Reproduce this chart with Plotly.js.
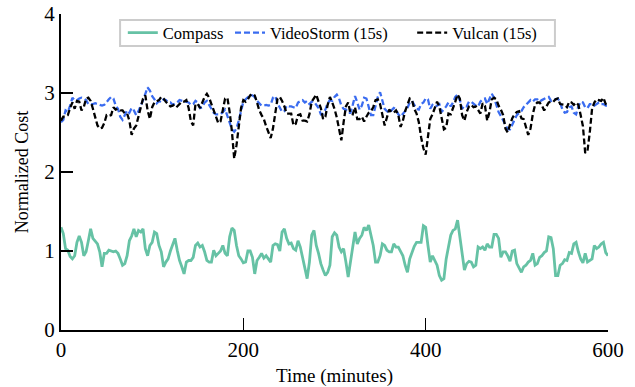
<!DOCTYPE html>
<html>
<head>
<meta charset="utf-8">
<script src="https://cdn.plot.ly/plotly-3.0.1.min.js"></script>
<style>html,body{margin:0;padding:0;background:#fff;}#chart{width:635px;height:387px;}</style>
</head>
<body>
<div id="chart"></div>
<script>
// Samples every 2.5 minutes from 0 to 600
const sampleStep = 2.5;

const compass = [
1.30,1.22,1.03,1.01,0.93,0.90,0.94,1.11,1.19,1.11,0.94,0.99,1.13,1.28,1.16,1.13,1.09,0.99,0.80,0.97,
0.97,1.01,1.00,0.99,1.00,0.97,0.90,0.82,0.84,0.94,1.13,1.19,1.28,1.18,1.26,1.24,1.28,1.03,0.94,1.07,
1.11,1.24,1.22,1.07,0.99,0.80,0.86,0.90,1.00,1.07,1.16,1.01,0.88,0.80,0.71,0.86,0.88,0.88,0.92,1.07,
1.10,1.05,1.07,0.99,0.88,0.86,0.86,1.01,0.94,0.97,1.00,1.07,0.97,0.94,1.18,1.29,1.26,1.07,0.94,0.90,
0.85,0.86,1.00,1.00,0.92,0.71,0.88,0.92,0.97,0.91,0.94,0.90,0.86,1.07,1.09,1.08,1.00,1.24,1.28,1.16,
1.09,1.10,1.03,1.01,1.13,1.05,0.90,0.76,0.65,0.86,1.20,1.26,1.07,0.97,0.84,0.76,0.69,0.73,0.82,1.18,
1.23,1.20,1.05,0.99,1.03,0.86,0.67,0.86,1.07,1.24,1.09,1.16,1.20,1.30,1.26,1.33,1.20,1.07,0.86,0.86,
0.94,1.09,1.07,1.01,0.99,0.99,1.09,1.05,1.05,1.00,0.94,0.82,0.73,0.90,0.99,1.06,1.11,1.11,1.11,1.32,
1.30,1.07,0.86,0.94,0.88,0.82,0.69,0.63,0.65,0.90,1.05,1.20,1.26,1.28,1.39,1.20,0.99,0.76,0.84,0.87,
0.86,0.80,0.82,1.05,1.03,1.05,1.01,1.09,1.05,1.05,1.21,1.21,1.16,0.92,0.99,0.99,0.94,0.87,1.00,1.01,
0.84,0.78,0.73,0.80,0.82,0.86,0.88,0.97,0.82,0.84,0.92,0.94,0.98,1.00,1.18,1.17,1.03,0.69,0.69,0.82,
0.84,0.89,0.88,0.98,0.97,1.09,1.11,0.99,0.90,0.85,0.97,0.86,0.88,0.90,1.07,1.03,1.05,1.09,1.11,0.98,
0.94];

const videostorm = [
2.63,2.66,2.78,2.76,2.84,2.94,2.91,2.91,2.93,2.94,2.93,2.91,2.86,2.86,2.86,2.87,2.86,2.84,2.84,2.85,
2.89,2.92,2.95,2.93,2.84,2.80,2.70,2.66,2.72,2.78,2.75,2.81,2.78,2.72,2.77,2.83,2.91,2.99,3.07,3.03,
2.96,2.92,2.87,2.90,2.88,2.92,2.91,2.88,2.88,2.85,2.86,2.88,2.91,2.90,2.90,2.88,2.88,2.85,2.86,2.90,
2.88,2.81,2.82,2.88,2.90,2.85,2.80,2.75,2.73,2.73,2.73,2.76,2.79,2.71,2.61,2.54,2.51,2.55,2.65,2.79,
2.89,2.92,2.94,2.97,2.97,2.95,2.90,2.87,2.84,2.84,2.85,2.84,2.85,2.94,2.96,2.87,2.81,2.76,2.77,2.84,
2.83,2.83,2.82,2.81,2.88,2.90,2.91,2.88,2.90,2.86,2.89,2.89,2.85,2.81,2.73,2.74,2.79,2.87,2.91,2.90,
2.95,2.98,2.93,2.84,2.80,2.79,2.75,2.75,2.85,2.96,2.88,2.79,2.84,2.94,2.93,2.81,2.72,2.72,2.83,2.95,
3.01,2.91,2.80,2.77,2.75,2.78,2.81,2.79,2.73,2.70,2.73,2.77,2.81,2.88,2.90,2.85,2.80,2.79,2.86,2.88,
2.93,2.92,2.80,2.85,2.83,2.84,2.86,2.76,2.79,2.83,2.88,2.83,2.88,2.95,2.98,2.91,2.80,2.84,2.83,2.89,
2.89,2.86,2.84,2.83,2.89,2.92,2.93,2.86,2.93,2.99,2.94,2.86,2.76,2.71,2.65,2.59,2.54,2.54,2.60,2.65,
2.72,2.75,2.77,2.82,2.85,2.88,2.91,2.89,2.92,2.92,2.89,2.91,2.93,2.94,2.95,2.90,2.92,2.92,2.93,2.88,
2.79,2.75,2.76,2.82,2.83,2.75,2.73,2.83,2.89,2.88,2.82,2.81,2.86,2.86,2.84,2.86,2.88,2.86,2.86,2.84,
2.84];

const vulcan = [
2.65,2.70,2.70,2.72,2.81,2.88,2.80,2.90,2.89,2.78,2.82,2.93,2.94,2.90,2.80,2.68,2.59,2.55,2.56,2.62,
2.72,2.71,2.72,2.82,2.79,2.80,2.78,2.78,2.74,2.74,2.65,2.47,2.55,2.59,2.70,2.81,2.93,2.97,2.78,2.67,
2.82,2.88,2.90,2.91,2.95,2.93,2.89,2.86,2.83,2.84,2.86,2.83,2.86,2.89,2.89,2.91,2.81,2.64,2.59,2.86,
2.86,2.81,2.88,2.95,2.99,2.94,2.86,2.78,2.70,2.62,2.64,2.80,2.93,2.94,2.76,2.51,2.17,2.34,2.55,2.81,
2.91,2.89,2.92,2.97,2.99,2.97,2.88,2.78,2.72,2.67,2.58,2.51,2.43,2.55,2.76,2.93,2.95,2.90,2.83,2.74,
2.74,2.74,2.59,2.61,2.72,2.73,2.65,2.65,2.64,2.73,2.89,2.94,2.98,2.89,2.81,2.67,2.70,2.85,2.95,2.88,
2.80,2.69,2.53,2.40,2.63,2.83,2.88,2.74,2.73,2.82,2.67,2.67,2.70,2.64,2.70,2.75,2.77,2.82,2.91,2.92,
2.86,2.74,2.59,2.69,2.79,2.76,2.75,2.78,2.72,2.57,2.65,2.77,2.84,2.93,2.91,2.80,2.74,2.63,2.44,2.30,
2.22,2.48,2.67,2.73,2.81,2.89,2.83,2.70,2.54,2.56,2.74,2.73,2.80,2.89,2.98,2.93,2.72,2.65,2.76,2.83,
2.85,2.82,2.83,2.79,2.74,2.87,2.84,2.65,2.76,2.92,2.94,2.92,2.84,2.79,2.72,2.55,2.50,2.60,2.68,2.73,
2.76,2.77,2.68,2.67,2.56,2.47,2.55,2.73,2.85,2.88,2.88,2.84,2.78,2.84,2.88,2.89,2.89,2.92,2.93,2.86,
2.85,2.85,2.82,2.89,2.88,2.85,2.88,2.85,2.72,2.58,2.24,2.27,2.50,2.80,2.88,2.92,2.91,2.90,2.94,2.86,
2.84];

const minutes = compass.map((_, i) => i * sampleStep);

const seriesNames = ['Compass', 'VideoStorm (15s)', 'Vulcan (15s)'];
const xTicks = [0, 200, 400, 600];
const yTicks = [0, 1, 2, 3, 4];

const font = 'Liberation Serif, Times New Roman, serif';

const traces = [
  {x: minutes, y: compass, name: seriesNames[0], type: 'scatter', mode: 'lines', legend: 'legend',
   line: {color: '#66c2a5', width: 2.8}},
  {x: minutes, y: videostorm, name: seriesNames[1], type: 'scatter', mode: 'lines', legend: 'legend2',
   line: {color: '#3a6cf0', width: 2.3, dash: '6px,3px'}},
  {x: minutes, y: vulcan, name: seriesNames[2], type: 'scatter', mode: 'lines', legend: 'legend3',
   line: {color: '#000000', width: 2.3, dash: '6px,3px'}}
];

const legendBase = {orientation: 'h', yanchor: 'middle', xanchor: 'left', y: 0.94,
  bgcolor: 'rgba(0,0,0,0)', borderwidth: 0, itemwidth: 30,
  font: {family: font, size: 16.5, color: '#000'}};

const layout = {
  width: 635, height: 387,
  margin: {l: 61, r: 27, t: 14, b: 57},
  paper_bgcolor: '#fff', plot_bgcolor: '#fff',
  font: {family: font, size: 18, color: '#000'},
  showlegend: true,
  legend: Object.assign({}, legendBase, {x: 0.113}),
  legend2: Object.assign({}, legendBase, {x: 0.309}),
  legend3: Object.assign({}, legendBase, {x: 0.642}),
  shapes: [{type: 'rect', xref: 'paper', yref: 'paper', layer: 'below',
    x0: 0.108, x1: 0.903, y0: 0.899, y1: 0.981,
    line: {color: '#cccccc', width: 2}, fillcolor: '#ffffff'}],
  xaxis: {range: [0, 600], tickvals: xTicks, ticks: 'inside', ticklen: 12, tickwidth: 1.5,
    tickcolor: '#000', showline: true, linecolor: '#000', linewidth: 2, showgrid: false,
    zeroline: false, tickfont: {family: font, size: 21},
    title: {text: 'Time (minutes)', font: {family: font, size: 19}, standoff: 9}},
  yaxis: {range: [0, 4], tickvals: yTicks, ticks: 'inside', ticklen: 12, tickwidth: 1.5,
    tickcolor: '#000', showline: true, linecolor: '#000', linewidth: 2, showgrid: false,
    zeroline: false, tickfont: {family: font, size: 21},
    title: {text: 'Normalized Cost', font: {family: font, size: 18}, standoff: 11}}
};

Plotly.newPlot('chart', traces, layout, {displayModeBar: false, staticPlot: true});
</script>
</body>
</html>
